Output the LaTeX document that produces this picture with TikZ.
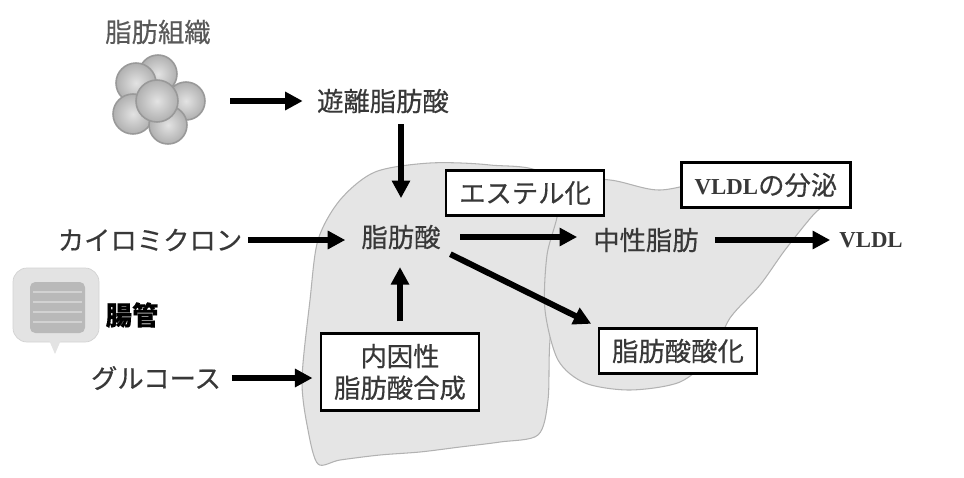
\documentclass[tikz,border=0pt]{standalone}
\usepackage{fontspec}
\setmainfont{Noto Sans CJK JP}[FakeBold=0.4]
\newfontfamily\latinfont{Liberation Serif}
\usetikzlibrary{arrows.meta, calc}

\begin{document}
\begin{tikzpicture}[x=0.02cm, y=-0.02cm,
    txt/.style={inner sep=0pt, text=black!78, font=\fontsize{15}{18}\selectfont},
    box/.style={txt, draw=black, line width=1.6pt, fill=white, inner xsep=7.5pt, inner ysep=6pt, align=center},
    flow/.style={line width=3.4pt, -{Triangle[length=10pt,width=10pt]}},
    cell/.style={inner color=gray!22, outer color=gray!62, draw=gray!80, line width=0.9pt},
    lobe/.style={fill=gray!20, draw=gray!60, line width=0.6pt}]

    \useasboundingbox (0,0) rectangle (964,477);

    % Liver: left lobe, then right lobe on top of it
    \filldraw[lobe] plot[smooth cycle] coordinates {
        (310,300) (318,240) (340,200) (375,172) (430,163) (490,165) (545,176)
        (560,250) (550,340) (548,400) (538,435) (500,442) (460,447) (420,452)
        (380,455) (340,460) (318,464) (308,430) (302,380)};
    \filldraw[lobe] plot[smooth cycle] coordinates {
        (548,178) (610,180) (660,190) (720,178) (790,172) (836,192) (814,214)
        (785,250) (760,285) (730,318) (712,355) (680,382) (630,390) (585,383)
        (558,360) (545,310) (547,255) (558,210)};

    % Adipose tissue: a cluster of fat cells
    \node[txt, text=black!65] (adiposelbl) at (158,32) {脂肪組織};
    \foreach \cx/\cy/\r in {158/74/19, 136/83/20, 186/101/19, 133/114/20, 168/125/19, 157/101/21}
        \shadedraw[cell] (\cx,\cy) circle (\r);
    \node[circle, inner sep=0pt, minimum size=2.8cm] (adipose) at (160,101) {};

    % Intestine icon
    \filldraw[fill=gray!22, draw=gray!35, rounded corners=8pt] (13,268) rectangle (99,342);
    \fill[gray!22] (49,340) -- (61,340) -- (55,354) -- cycle;
    \fill[gray!55, rounded corners=3pt] (30,282) rectangle (85,333);
    \foreach \yy in {292,302,312,322}
        \draw[gray!35, line width=1pt] (33,\yy) -- (82,\yy);
    \node[txt, text=black, font=\bfseries\fontsize{15}{18}\selectfont] (gut) at (132,315) {腸管};

    % Metabolites
    \node[txt] (ffa) at (383,101) {遊離脂肪酸};
    \node[txt] (fa) at (401,237) {脂肪酸};
    \node[txt] (chylo) at (150,240) {カイロミクロン};
    \node[txt] (tg) at (646,240) {中性脂肪};
    \node[txt, font=\latinfont\bfseries\fontsize{13}{15}\selectfont] (vldl) at (871,240) {VLDL};
    \node[txt] (glu) at (156,378) {グルコース};

    % Processes
    \node[box] (ester) at (525,193) {エステル化};
    \node[box] (secr) at (766,185) {{\latinfont\bfseries\fontsize{13}{15}\selectfont VLDL}の分泌};
    \node[box] (ox) at (678,351) {脂肪酸酸化};
    \node[box] (synth) at (400,372) {内因性\\脂肪酸合成};

    % Arrows
    \draw[flow, shorten >=8pt] (adipose.east) -- (ffa.west |- adipose.east);
    \draw[flow, shorten <=6pt, shorten >=15pt] (fa |- ffa.south) -- (fa.north);
    \draw[flow, shorten <=3pt, shorten >=9pt] (chylo.east) -- (chylo.east -| fa.west);
    \draw[flow, shorten <=11pt, shorten >=9pt] (fa.east) -- (tg.west |- fa.east);
    \draw[flow, shorten <=9pt, shorten >=5pt] (tg.east) -- (vldl.west);
    \draw[flow, shorten <=6pt, shorten >=4pt] (fa.south east) -- (ox.north west);
    \draw[flow, shorten <=6pt, shorten >=10pt] (synth.north) -- (synth.north |- fa.south);
    \draw[flow, shorten <=6pt, shorten >=4pt] (glu.east) -- (glu.east -| synth.west);

\end{tikzpicture}
\end{document}
